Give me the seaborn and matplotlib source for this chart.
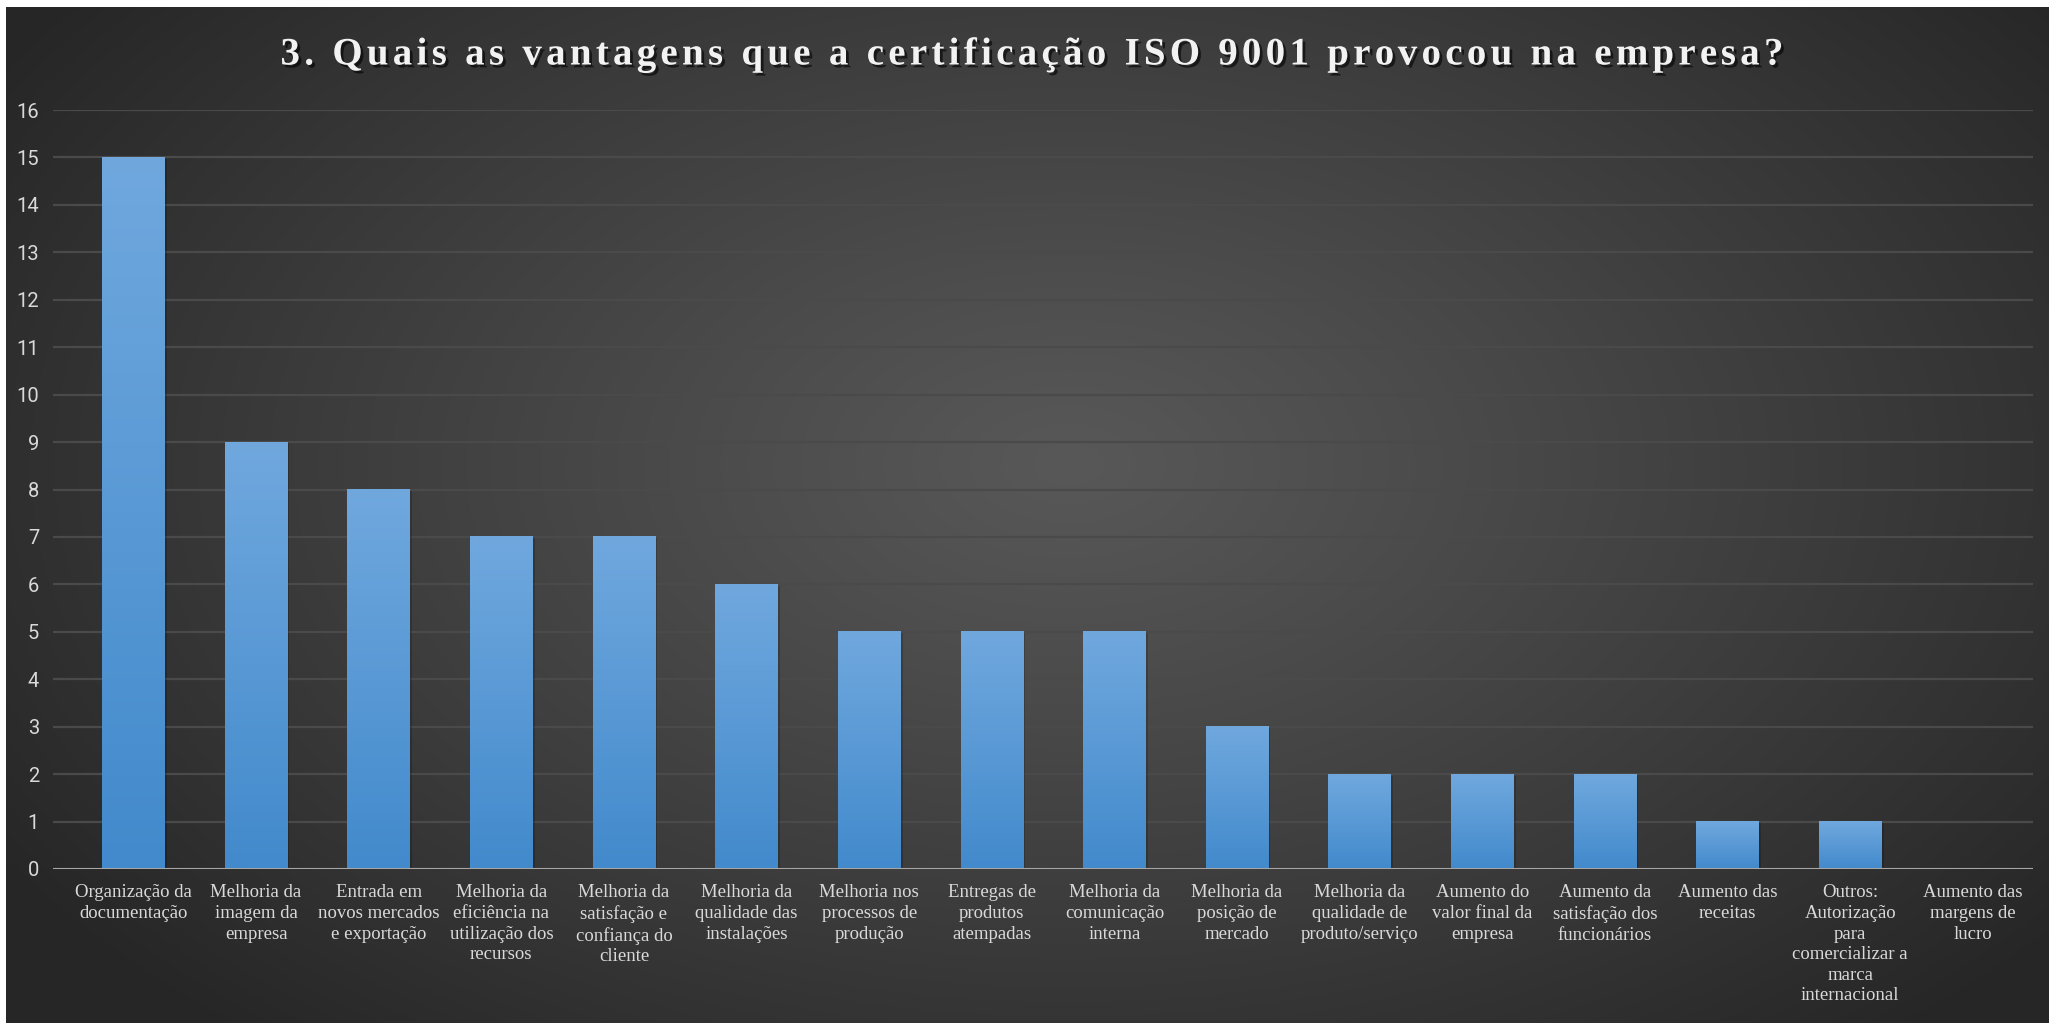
import numpy as np
import pandas as pd
import matplotlib
matplotlib.use("Agg")
import matplotlib.pyplot as plt
import matplotlib.patheffects as pe
from matplotlib.font_manager import FontProperties
import seaborn as sns

# data
categorias = [
    "Organização da\ndocumentação",
    "Melhoria da\nimagem da\nempresa",
    "Entrada em\nnovos mercados\ne exportação",
    "Melhoria da\neficiência na\nutilização dos\nrecursos",
    "Melhoria da\nsatisfação e\nconfiança do\ncliente",
    "Melhoria da\nqualidade das\ninstalações",
    "Melhoria nos\nprocessos de\nprodução",
    "Entregas de\nprodutos\natempadas",
    "Melhoria da\ncomunicação\ninterna",
    "Melhoria da\nposição de\nmercado",
    "Melhoria da\nqualidade de\nproduto/serviço",
    "Aumento do\nvalor final da\nempresa",
    "Aumento da\nsatisfação dos\nfuncionários",
    "Aumento das\nreceitas",
    "Outros:\nAutorização\npara\ncomercializar a\nmarca\ninternacional",
    "Aumento das\nmargens de\nlucro",
]
respostas = [15, 9, 8, 7, 7, 6, 5, 5, 5, 3, 2, 2, 2, 1, 1, 0]
yticks = list(range(0, 17))
titulo = "3. Quais as vantagens que a certificação ISO 9001 provocou na empresa?"

df = pd.DataFrame({"cat": categorias, "n": respostas})

sns.set_theme(style="dark")
plt.rcParams["font.family"] = ["Liberation Serif", "DejaVu Serif"]

W, H = 2049, 1023
fig = plt.figure(figsize=(W / 100, H / 100), dpi=100, facecolor="white")

# radial background
bg = fig.add_axes([6 / W, 0, 1 - 6 / W, 1 - 7 / H], zorder=-5)
yy, xx = np.mgrid[0:1:400j, 0:1:800j]
r = np.sqrt(((xx - 0.52) / 0.62) ** 2 + ((yy - 0.45) / 0.75) ** 2)
r = np.clip(r, 0, 1)
shade = 0.345 - (0.345 - 0.15) * r ** 1.1
bg.imshow(np.dstack([shade, shade, shade]), extent=[0, 1, 0, 1], aspect="auto")
bg.set_axis_off()

ax = fig.add_axes([53 / W, (H - 869) / H, (2033 - 53) / W, (869 - 110) / H])
ax.set_facecolor("none")

sns.barplot(data=df, x="cat", y="n", ax=ax, width=0.51, color="#5b9bd5")

top_c = np.array([112, 168, 222]) / 255
bot_c = np.array([66, 138, 204]) / 255
grad = np.linspace(0, 1, 256)[:, None, None]
grad_img = top_c * (1 - grad) + bot_c * grad
for p in list(ax.patches):
    x0, w, h = p.get_x(), p.get_width(), p.get_height()
    if h <= 0:
        continue
    p.set_facecolor("none")
    p.set_edgecolor("none")
    shadow = plt.Rectangle((x0, 0), w, h, facecolor="black", alpha=0.0,
                           path_effects=[pe.SimplePatchShadow(offset=(1.5, -1), alpha=0.18, shadow_rgbFace="black")],
                           zorder=1)
    ax.add_patch(shadow)
    ax.imshow(grad_img, extent=[x0, x0 + w, 0, h], aspect="auto", zorder=2)

ax.set_xlim(-0.656, 15.49)
ax.set_ylim(0, 16)
ax.set_yticks(yticks)
ax.grid(axis="y", color="#4a4a4a", linewidth=1.6, zorder=0)
ax.grid(axis="x", visible=False)
ax.axhline(0, color="#a6a6a6", linewidth=2.2, zorder=3)
for s in ax.spines.values():
    s.set_visible(False)
ax.set_xlabel("")
ax.set_ylabel("")
ax.tick_params(axis="both", length=0)
ax.tick_params(axis="x", pad=11)
ax.tick_params(axis="y", pad=10)

for lab in ax.get_xticklabels():
    lab.set_fontsize(13.5)
    lab.set_color("#d9d9d9")
    lab.set_linespacing(1.28)
    lab.set_va("top")
for lab in ax.get_yticklabels():
    lab.set_fontsize(14.5)
    lab.set_color("#d9d9d9")
    lab.set_family(["Liberation Sans Narrow", "Roboto", "DejaVu Sans"])

# title with letter spacing, placed char by char
renderer = fig.canvas.get_renderer()
tprop = FontProperties(family="Liberation Serif", weight="bold", size=28)
bar_w = renderer.get_text_width_height_descent("|", tprop, ismath=False)[0]


def adv(s):
    return renderer.get_text_width_height_descent(s + "|", tprop, ismath=False)[0] - bar_w


total = 1503
spacing = (total - adv(titulo)) / (len(titulo) - 1)
x_start = 1032 - total / 2
for i, ch in enumerate(titulo):
    if ch == " ":
        continue
    xpix = x_start + adv(titulo[:i]) + i * spacing
    fig.text(xpix / W, 1 - 55 / H, ch, ha="left", va="center",
             fontproperties=tprop, color="#f2f2f2",
             path_effects=[pe.withSimplePatchShadow(offset=(2, -2), shadow_rgbFace="black", alpha=0.6)])

fig.savefig("out.png", dpi=100, facecolor="white")
